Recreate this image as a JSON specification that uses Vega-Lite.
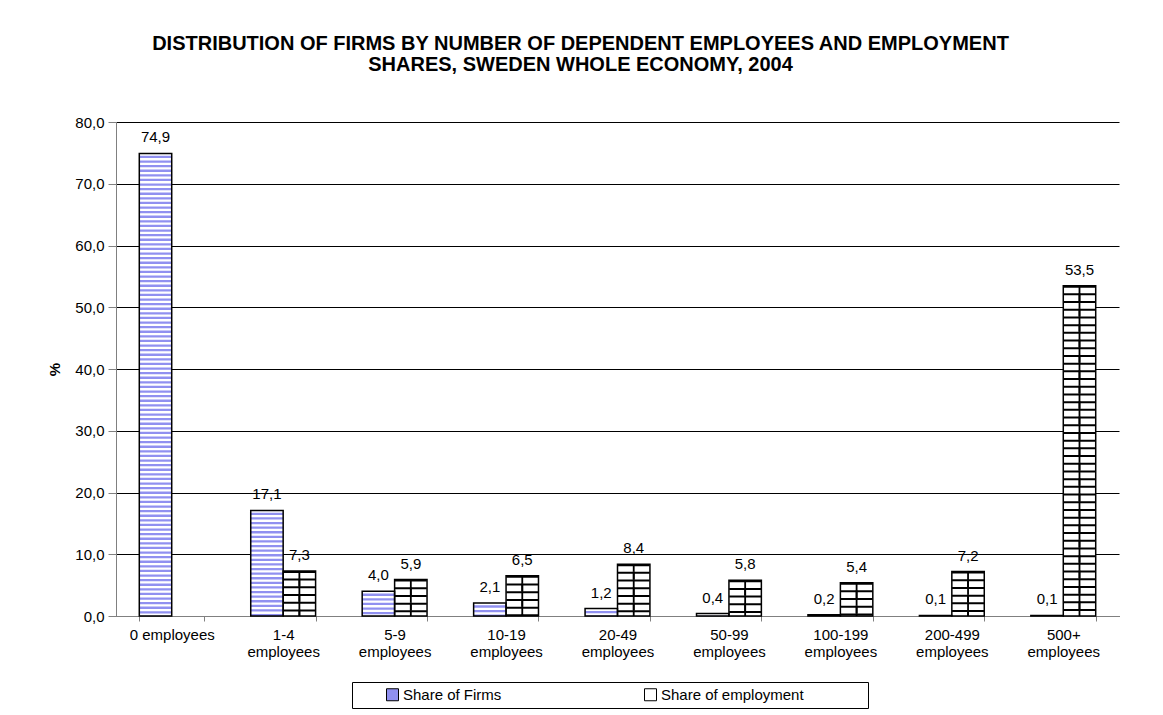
{
  "$schema": "https://vega.github.io/schema/vega-lite/v6.json",
  "width": 1003,
  "height": 494,
  "autosize": {"type": "none"},
  "padding": {"left": 116, "top": 122, "right": 44, "bottom": 99},
  "background": "white",
  "config": {
    "font": "Liberation Sans",
    "view": {"stroke": null},
    "axis": {"labelColor": "#000", "titleColor": "#000", "labelFont": "Liberation Sans", "titleFont": "Liberation Sans"},
    "legend": {"labelFont": "Liberation Sans", "labelColor": "#000"}
  },
  "title": {
    "text": ["DISTRIBUTION OF FIRMS BY NUMBER OF DEPENDENT EMPLOYEES AND EMPLOYMENT", "SHARES, SWEDEN WHOLE ECONOMY, 2004"],
    "fontSize": 20,
    "fontWeight": "bold",
    "lineHeight": 21,
    "anchor": "middle",
    "color": "#000",
    "dx": -37,
    "offset": 40
  },
  "data": {
    "values": [
      {"size": "0 employees", "series": "Share of Firms", "value": 74.9},
      {"size": "1-4 employees", "series": "Share of Firms", "value": 17.1},
      {"size": "5-9 employees", "series": "Share of Firms", "value": 4.0},
      {"size": "10-19 employees", "series": "Share of Firms", "value": 2.1},
      {"size": "20-49 employees", "series": "Share of Firms", "value": 1.2},
      {"size": "50-99 employees", "series": "Share of Firms", "value": 0.4},
      {"size": "100-199 employees", "series": "Share of Firms", "value": 0.2},
      {"size": "200-499 employees", "series": "Share of Firms", "value": 0.1},
      {"size": "500+ employees", "series": "Share of Firms", "value": 0.1},
      {"size": "1-4 employees", "series": "Share of employment", "value": 7.3},
      {"size": "5-9 employees", "series": "Share of employment", "value": 5.9},
      {"size": "10-19 employees", "series": "Share of employment", "value": 6.5},
      {"size": "20-49 employees", "series": "Share of employment", "value": 8.4},
      {"size": "50-99 employees", "series": "Share of employment", "value": 5.8},
      {"size": "100-199 employees", "series": "Share of employment", "value": 5.4},
      {"size": "200-499 employees", "series": "Share of employment", "value": 7.2},
      {"size": "500+ employees", "series": "Share of employment", "value": 53.5}
    ]
  },
  "transform": [
    {"calculate": "replace(format(datum.value, '.1f'), '.', ',')", "as": "label"}
  ],
  "encoding": {
    "x": {
      "field": "size",
      "type": "nominal",
      "sort": ["0 employees", "1-4 employees", "5-9 employees", "10-19 employees", "20-49 employees", "50-99 employees", "100-199 employees", "200-499 employees", "500+ employees"],
      "scale": {"paddingInner": 0.418, "paddingOuter": 0.209},
      "axis": {
        "title": null,
        "labelAngle": 0,
        "labelFontSize": 15,
        "labelLineHeight": 17,
        "labelPadding": 6,
        "tickBand": "extent",
        "tickSize": 5,
        "tickColor": "#808080",
        "domainColor": "#808080",
        "grid": false,
        "labelExpr": "isString(datum.value) ? (datum.value === '0 employees' ? ['0 employees'] : split(datum.value, ' ')) : ''"
      }
    },
    "xOffset": {
      "field": "series",
      "type": "nominal",
      "sort": ["Share of Firms", "Share of employment"],
      "scale": {"paddingInner": 0, "paddingOuter": 0}
    },
    "y": {
      "field": "value",
      "type": "quantitative",
      "scale": {"domain": [0, 80], "nice": false},
      "axis": {
        "values": [0, 10, 20, 30, 40, 50, 60, 70, 80],
        "grid": true,
        "gridColor": "#000",
        "gridWidth": 1,
        "domainColor": "#808080",
        "tickColor": "#808080",
        "tickSize": 8,
        "labelFontSize": 15,
        "labelPadding": 4,
        "labelExpr": "replace(format(datum.value, '.1f'), '.', ',')",
        "title": "%",
        "titleFontSize": 15,
        "titleFontWeight": "bold",
        "titlePadding": 12
      }
    }
  },
  "layer": [
    {
      "mark": {"type": "bar", "stroke": null},
      "encoding": {
        "fill": {
          "field": "series",
          "type": "nominal",
          "scale": {"domain": ["Share of Firms", "Share of employment"], "range": ["#9090f0", "#ffffff"]},
          "legend": {
            "orient": "none",
            "legendX": 236,
            "legendY": 560,
            "direction": "horizontal",
            "title": " ",
            "titleOrient": "right",
            "titlePadding": 59,
            "strokeColor": "#000",
            "padding": 5,
            "symbolType": "square",
            "symbolSize": 144,
            "symbolOffset": 28,
            "symbolStrokeColor": "#000",
            "symbolStrokeWidth": 1,
            "labelFontSize": 15,
            "labelOffset": 3,
            "columnPadding": 113
          }
        }
      }
    },
    {
      "transform": [{"filter": "datum.series === 'Share of Firms'"}],
      "mark": {"type": "rule", "stroke": "#ffffff", "strokeWidth": 32, "strokeDash": [2.3, 2.3], "strokeCap": "butt"},
      "encoding": {"y2": {"datum": 0}}
    },
    {
      "transform": [{"filter": "datum.series === 'Share of employment'"}],
      "mark": {"type": "rule", "stroke": "#000", "strokeWidth": 32, "strokeDash": [2, 5.7], "strokeCap": "butt"},
      "encoding": {"y2": {"datum": 0}}
    },
    {
      "transform": [{"filter": "datum.series === 'Share of employment'"}],
      "mark": {"type": "rule", "stroke": "#000", "strokeWidth": 1.8, "strokeDash": [7.7, 7.7], "strokeCap": "butt"},
      "encoding": {"y2": {"datum": 0}}
    },
    {
      "transform": [{"filter": "datum.series === 'Share of employment'"}],
      "mark": {"type": "rule", "stroke": "#000", "strokeWidth": 1.8, "strokeDash": [7.7, 7.7], "strokeDashOffset": 7.7, "strokeCap": "butt", "xOffset": -8},
      "encoding": {"y2": {"datum": 0}}
    },
    {
      "transform": [{"filter": "datum.series === 'Share of employment'"}],
      "mark": {"type": "rule", "stroke": "#000", "strokeWidth": 1.8, "strokeDash": [7.7, 7.7], "strokeDashOffset": 7.7, "strokeCap": "butt", "xOffset": 8},
      "encoding": {"y2": {"datum": 0}}
    },
    {
      "mark": {"type": "bar", "fillOpacity": 0, "stroke": "#000", "strokeWidth": 1.5}
    },
    {
      "mark": {"type": "text", "dy": -8, "fontSize": 15, "color": "#000", "baseline": "bottom"},
      "encoding": {"text": {"field": "label"}}
    }
  ]
}
